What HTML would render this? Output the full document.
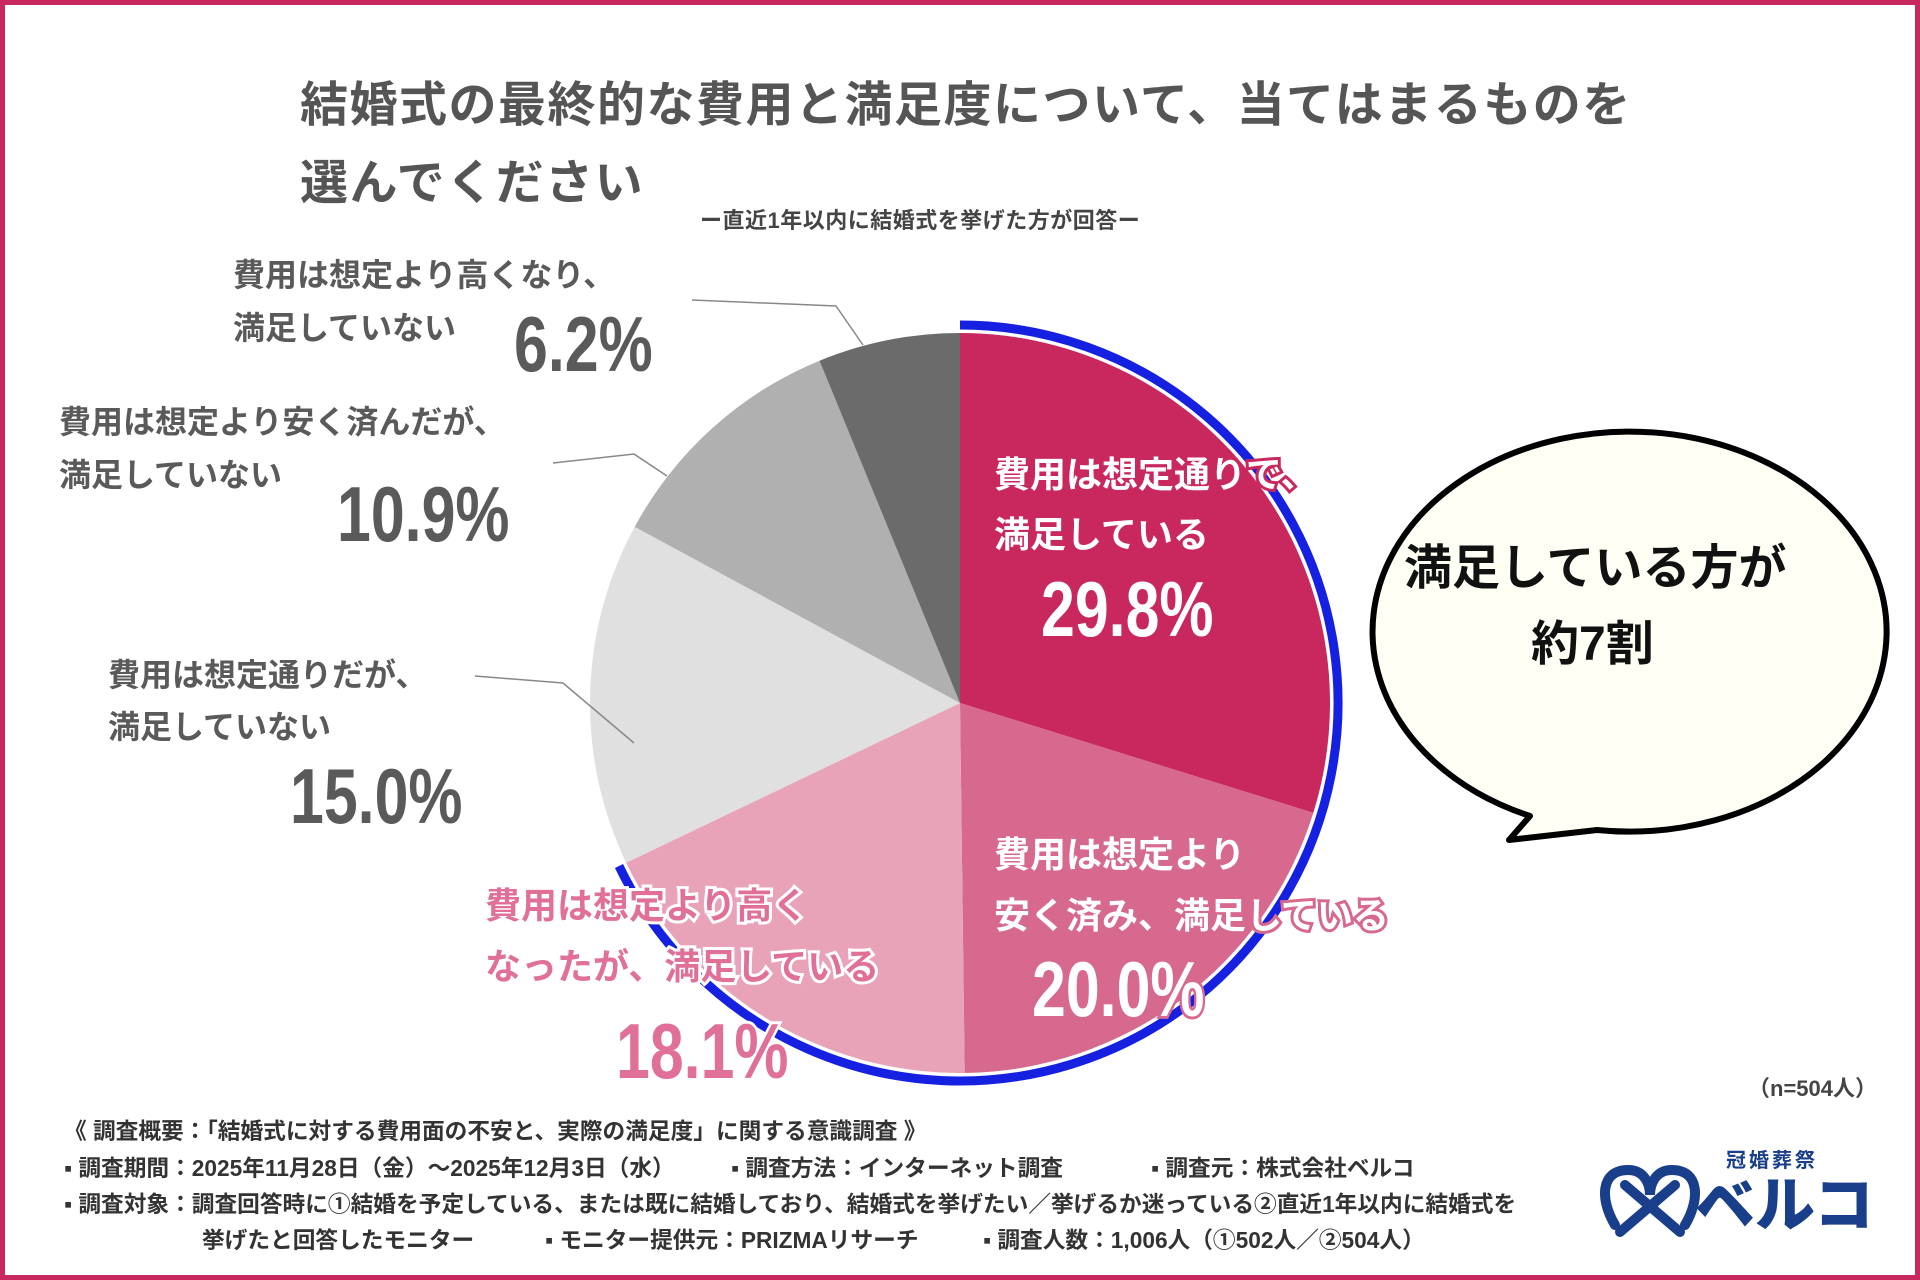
<!DOCTYPE html>
<html><head><meta charset="utf-8"><style>
html,body{margin:0;padding:0;}
body{width:1920px;height:1280px;position:relative;overflow:hidden;background:#fff;font-family:"Liberation Sans","Noto Sans CJK JP",sans-serif;font-weight:bold;color:#555;}
.frame{position:absolute;left:0;top:0;width:1920px;height:1280px;box-sizing:border-box;border:5px solid #c8285e;}
.t{position:absolute;white-space:nowrap;line-height:1;}
.g{color:#5a5a5a;font-size:32px;}
.num{font-family:"Liberation Sans",sans-serif;font-weight:bold;font-size:78px;transform:scaleX(0.78);transform-origin:0 0;}
.w{color:#fff;font-size:36px;-webkit-text-stroke:6px #c8285e;paint-order:stroke fill;}
.w2{color:#fff;font-size:36px;-webkit-text-stroke:6px #d6698d;paint-order:stroke fill;}
.p{color:#e07098;font-size:36px;-webkit-text-stroke:6px #fff;paint-order:stroke fill;}
.f{color:#333;font-size:22.7px;}
</style></head><body>
<div class="frame"></div>
<svg width="1920" height="1280" style="position:absolute;left:0;top:0">
<path d="M960,703 L960,333 A370,370 0 0 1 1313.3,812.9 Z" fill="#c8285e"/>
<path d="M960,703 L1313.3,812.9 A370,370 0 0 1 964.7,1073 Z" fill="#d6698d"/>
<path d="M960,703 L964.7,1073 A370,370 0 0 1 626.2,862.7 Z" fill="#e8a3b8"/>
<path d="M960,703 L626.2,862.7 A370,370 0 0 1 634.7,526.8 Z" fill="#e0e0e0"/>
<path d="M960,703 L634.7,526.8 A370,370 0 0 1 819.5,360.7 Z" fill="#b0b0b0"/>
<path d="M960,703 L819.5,360.7 A370,370 0 0 1 960,333 Z" fill="#6b6b6b"/>
<path d="M960,325 A378,378 0 1 1 619,866" fill="none" stroke="#1520e0" stroke-width="9"/>
<polyline points="692,300 836,306 863,345" fill="none" stroke="#888" stroke-width="1.5"/>
<polyline points="553,463 634,454 667,476" fill="none" stroke="#888" stroke-width="1.5"/>
<polyline points="475,676 563,683 634,743" fill="none" stroke="#888" stroke-width="1.5"/>
<path d="M1597,830 A257,200 0 1 0 1530,816 L1509,840 Z" fill="#fffff5" stroke="#000" stroke-width="6" stroke-linejoin="round"/>
<g fill="none" stroke="#1a3f8a" stroke-width="10" stroke-linecap="round">
<path d="M1615,1225 C1600,1200 1600,1170 1628,1170 C1645,1170 1650,1185 1650,1195 C1650,1185 1655,1170 1672,1170 C1700,1170 1700,1200 1685,1225"/>
<path d="M1625,1185 L1680,1232"/><path d="M1675,1185 L1620,1232"/>
</g>
</svg>
<div class="t" style="left:300px;top:82px;font-size:48px;letter-spacing:1.5px;color:#555">結婚式の最終的な費用と満足度について、当てはまるものを</div>
<div class="t" style="left:300px;top:160px;font-size:48px;letter-spacing:1.5px;color:#555">選んでください</div>
<div class="t" style="left:700px;top:210px;font-size:22px;letter-spacing:0.5px;color:#444">ー直近1年以内に結婚式を挙げた方が回答ー</div>

<div class="t g" style="left:233px;top:259px">費用は想定より高くなり、</div>
<div class="t g" style="left:233px;top:312px">満足していない</div>
<div class="t num" style="left:514px;top:305px;color:#5a5a5a">6.2%</div>
<div class="t g" style="left:59px;top:406px">費用は想定より安く済んだが、</div>
<div class="t g" style="left:59px;top:459px">満足していない</div>
<div class="t num" style="left:337px;top:475px;color:#5a5a5a">10.9%</div>
<div class="t g" style="left:108px;top:659px">費用は想定通りだが、</div>
<div class="t g" style="left:108px;top:711px">満足していない</div>
<div class="t num" style="left:290px;top:757px;color:#5a5a5a">15.0%</div>

<div class="t w" style="left:994px;top:457px">費用は想定通りで、</div>
<div class="t w" style="left:994px;top:517px">満足している</div>
<div class="t num" style="left:1041px;top:570px;color:#fff">29.8%</div>
<div class="t w2" style="left:994px;top:837px">費用は想定より</div>
<div class="t w2" style="left:994px;top:898px">安く済み、満足している</div>
<div class="t num w2" style="left:1032px;top:950px;font-size:78px">20.0%</div>
<div class="t p" style="left:485px;top:888px">費用は想定より高く</div>
<div class="t p" style="left:485px;top:949px">なったが、満足している</div>
<div class="t num p" style="left:616px;top:1012px;font-size:78px;">18.1%</div>

<div class="t" style="left:1404px;top:545px;font-size:48px;color:#111">満足している方が</div>
<div class="t" style="left:1531px;top:621px;font-size:48px;color:#111">約7割</div>

<div class="t" style="left:1748px;top:1078px;font-size:22px;color:#444">（n=504人）</div>
<div class="t f" style="left:64px;top:1120px">《 調査概要：「結婚式に対する費用面の不安と、実際の満足度」に関する意識調査 》</div>
<div class="t f" style="left:64px;top:1157px">▪ 調査期間：2025年11月28日（金）～2025年12月3日（水）</div>
<div class="t f" style="left:731px;top:1157px">▪ 調査方法：インターネット調査</div>
<div class="t f" style="left:1151px;top:1157px">▪ 調査元：株式会社ベルコ</div>
<div class="t f" style="left:64px;top:1193px">▪ 調査対象：調査回答時に①結婚を予定している、または既に結婚しており、結婚式を挙げたい／挙げるか迷っている②直近1年以内に結婚式を</div>
<div class="t f" style="left:202px;top:1229px">挙げたと回答したモニター</div>
<div class="t f" style="left:545px;top:1229px">▪ モニター提供元：PRIZMAリサーチ</div>
<div class="t f" style="left:983px;top:1229px">▪ 調査人数：1,006人（①502人／②504人）</div>

<div class="t" style="left:1726px;top:1151px;font-size:20px;color:#1a3f8a;letter-spacing:3px">冠婚葬祭</div>
<div class="t" style="left:1695px;top:1176px;font-size:60px;color:#1a3f8a;font-weight:900">ベルコ</div>
</body></html>
